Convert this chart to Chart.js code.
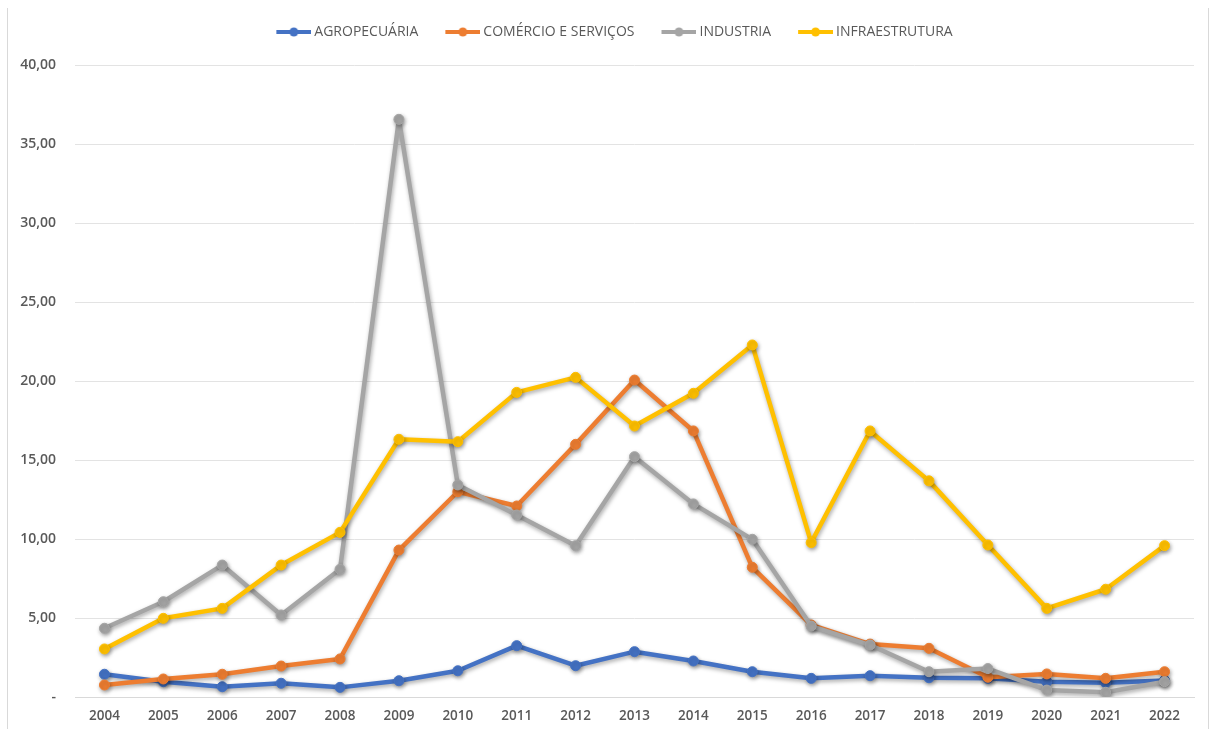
<!DOCTYPE html>
<html>
<head>
<meta charset="utf-8">
<script src="https://cdn.jsdelivr.net/npm/chart.js@4"></script>
<style>
    body { margin: 0; background: #fff; }
    #main { position: relative; width: 1210px; height: 729px; }
    #marco {
        position: absolute; left: 7px; top: 8px; width: 1200px; height: 721px;
        border-left: 1px solid #d9d9d9; border-right: 1px solid #d9d9d9;
    }
    #grafica { position: absolute; left: 0; top: 0; }
</style>
</head>
<body>
<div id="main">
    <div id="marco"></div>
    <canvas id="grafica" width="1210" height="729"></canvas>
</div>
<script>
// Datos
const anos = ['2004', '2005', '2006', '2007', '2008', '2009', '2010', '2011', '2012', '2013',
    '2014', '2015', '2016', '2017', '2018', '2019', '2020', '2021', '2022'];
const agropecuaria = [1.44, 0.97, 0.65, 0.87, 0.61, 1.03, 1.66, 3.25, 1.98, 2.87,
    2.28, 1.60, 1.18, 1.35, 1.22, 1.18, 0.97, 0.90, 1.05];
const comercio = [0.76, 1.14, 1.44, 1.96, 2.41, 9.30, 12.99, 12.09, 15.99, 20.06,
    16.84, 8.21, 4.56, 3.35, 3.08, 1.25, 1.46, 1.18, 1.60];
const industria = [4.35, 6.03, 8.35, 5.19, 8.08, 36.56, 13.42, 11.52, 9.58, 15.21,
    12.22, 9.98, 4.49, 3.29, 1.60, 1.80, 0.44, 0.30, 0.97];
const infraestrutura = [3.04, 4.98, 5.61, 8.35, 10.42, 16.31, 16.16, 19.28, 20.23, 17.15,
    19.22, 22.28, 9.77, 16.84, 13.68, 9.62, 5.61, 6.82, 9.58];

const nombres = ['AGROPECUÁRIA', 'COMÉRCIO E SERVIÇOS', 'INDUSTRIA', 'INFRAESTRUTURA'];
const colores = ['#4472c4', '#ed7d31', '#a5a5a5', '#ffc000'];

window.addEventListener('load', function () {
    let canvas = document.getElementById('grafica');

    // Icono de la leyenda: linea con un circulo en medio
    function crearIcono(color) {
        let c = document.createElement('canvas');
        c.width = 46;
        c.height = 12;
        let ctx = c.getContext('2d');
        ctx.strokeStyle = color;
        ctx.lineWidth = 4;
        ctx.beginPath();
        ctx.moveTo(11, 6);
        ctx.lineTo(46, 6);
        ctx.stroke();
        ctx.fillStyle = color;
        ctx.beginPath();
        ctx.arc(28.5, 6, 4.5, 0, 2 * Math.PI);
        ctx.fill();
        return c;
    }
    let iconos = colores.map(crearIcono);

    let series = [agropecuaria, comercio, industria, infraestrutura];
    let datasets = series.map((valores, i) => ({
        label: nombres[i],
        data: valores,
        borderColor: colores[i],
        backgroundColor: colores[i],
        borderWidth: 4.5,
        borderJoinStyle: 'round',
        borderCapStyle: 'round',
        pointRadius: 5,
        pointBorderWidth: 1,
        pointBackgroundColor: colores[i],
        tension: 0,
        order: 3 - i   // la ultima serie queda encima
    }));

    // Sombra suave como en Excel
    let sombra = {
        id: 'sombra',
        beforeDatasetDraw(chart) {
            let ctx = chart.ctx;
            ctx.save();
            ctx.shadowColor = 'rgba(0, 0, 0, 0.35)';
            ctx.shadowBlur = 4;
            ctx.shadowOffsetX = 1;
            ctx.shadowOffsetY = 2;
        },
        afterDatasetDraw(chart) {
            chart.ctx.restore();
        }
    };

    // Espacio extra debajo de la leyenda y leyenda un poco a la derecha
    let ajusteLeyenda = {
        id: 'ajusteLeyenda',
        beforeInit(chart) {
            let fitOriginal = chart.legend.fit;
            chart.legend.fit = function () {
                fitOriginal.bind(chart.legend)();
                this.height += 16;
            };
        },
        afterLayout(chart) {
            chart.legend.left += 14;
            chart.legend.right += 14;
        }
    };

    Chart.defaults.font.family = "'Open Sans', sans-serif";

    new Chart(canvas, {
        type: 'line',
        data: {
            labels: anos,
            datasets: datasets
        },
        plugins: [sombra, ajusteLeyenda],
        options: {
            responsive: false,
            animation: false,
            layout: {
                padding: { top: 5, right: 16, bottom: 0, left: 0 }
            },
            scales: {
                x: {
                    offset: true,
                    grid: { display: false, drawTicks: false },
                    border: { color: '#d9d9d9' },
                    ticks: {
                        color: '#595959',
                        padding: 11,
                        font: { size: 13.5, weight: '600' }
                    },
                    afterFit(scale) { scale.height = 32; }
                },
                y: {
                    min: 0,
                    max: 40,
                    grid: { color: '#e3e3e3', drawTicks: false },
                    border: { display: false },
                    ticks: {
                        stepSize: 5,
                        color: '#595959',
                        padding: 19,
                        font: { size: 14, weight: '600' },
                        callback: function (v) {
                            if (v === 0) return '-';
                            return v.toFixed(2).replace('.', ',');
                        }
                    },
                    afterFit(scale) { scale.width = 75; }
                }
            },
            plugins: {
                tooltip: { enabled: false },
                legend: {
                    position: 'top',
                    labels: {
                        usePointStyle: true,
                        pointStyleWidth: 38,
                        padding: 20,
                        color: '#595959',
                        font: { size: 14 },
                        sort: (a, b) => a.datasetIndex - b.datasetIndex,
                        generateLabels: function (chart) {
                            let items = Chart.defaults.plugins.legend.labels.generateLabels(chart);
                            items.forEach(it => { it.pointStyle = iconos[it.datasetIndex]; });
                            return items;
                        }
                    }
                }
            }
        }
    });
});
</script>
</body>
</html>
